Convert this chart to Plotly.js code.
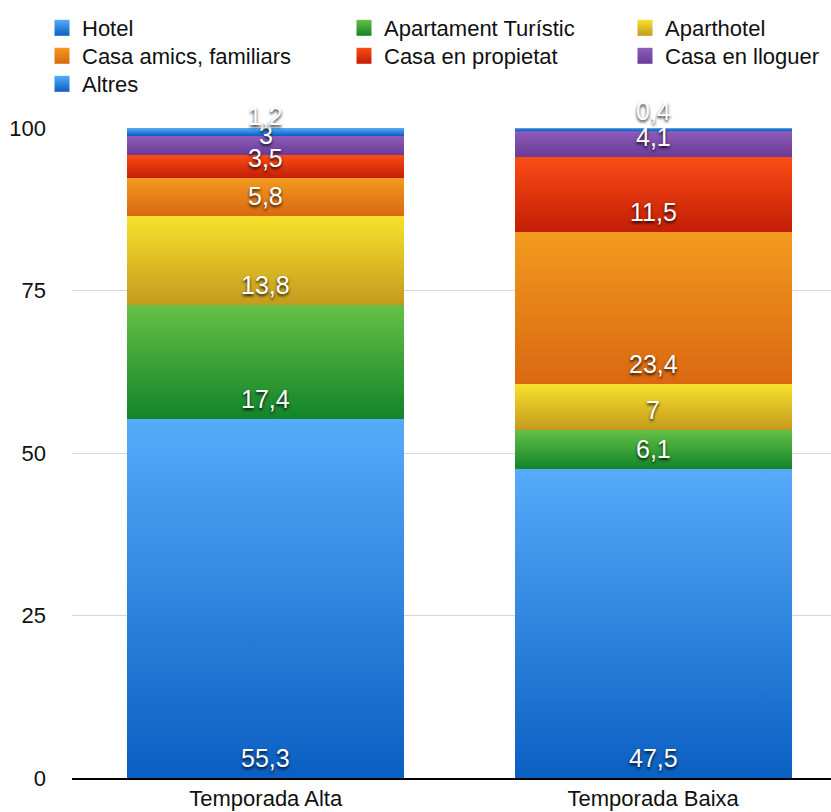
<!DOCTYPE html>
<html>
<head>
<meta charset="utf-8">
<script src="https://cdn.plot.ly/plotly-3.0.1.min.js"></script>
<style>
  html, body { margin: 0; padding: 0; background: #ffffff; }
  #chart { width: 831px; height: 812px; }
</style>
</head>
<body>
<div id="chart"></div>
<script>
// Seasons on the x axis
const seasons = ['Temporada Alta', 'Temporada Baixa'];

// Accommodation types (stack order, bottom to top)
const categories = ['Hotel', 'Apartament Turístic', 'Aparthotel', 'Casa amics, familiars',
                    'Casa en propietat', 'Casa en lloguer', 'Altres'];

// Share of visitors (%) per season
const hotel         = [55.3, 47.5];
const apartament    = [17.4, 6.1];
const aparthotel    = [13.8, 7];
const casaAmics     = [5.8, 23.4];
const casaPropietat = [3.5, 11.5];
const casaLloguer   = [3, 4.1];
const altres        = [1.2, 0.4];

const yTicks = [0, 25, 50, 75, 100];

const seriesValues = [hotel, apartament, aparthotel, casaAmics, casaPropietat, casaLloguer, altres];

// Vertical gradients per series: [top, bottom]
const gradients = [
  ['#56abfa', '#0a5fc2'],
  ['#66c046', '#12842a'],
  ['#f8e22c', '#c49a1e'],
  ['#f29a1f', '#da6811'],
  ['#fb4c15', '#c21e06'],
  ['#8d5db8', '#6a3a97'],
  ['#56abfa', '#0a5fc2']
];
const legendColumn = ['legend', 'legend2', 'legend3', 'legend', 'legend2', 'legend3', 'legend'];

const traces = categories.map((name, i) => ({
  type: 'bar',
  name: name,
  x: seasons,
  y: seriesValues[i],
  legend: legendColumn[i],
  marker: { color: gradients[i][1], line: { width: 0 } },
  hoverinfo: 'skip'
}));

// Value labels sit just above the bottom edge of each segment
const fmt = v => String(v).replace('.', ',');
const annotations = [];
seasons.forEach((s, j) => {
  let base = 0;
  seriesValues.forEach(vals => {
    annotations.push({
      x: s, y: base, xref: 'x', yref: 'y',
      text: fmt(vals[j]), showarrow: false,
      yanchor: 'middle', yshift: 20,
      font: { family: 'Liberation Sans, Arial, sans-serif', size: 25, color: '#ffffff',
              shadow: '0px 2px 3px rgba(0,0,0,0.85)' }
    });
    base += vals[j];
  });
});

const legendFont = { family: 'Liberation Sans, Arial, sans-serif', size: 22, color: '#111111' };
const legendBase = {
  orientation: 'v', xref: 'container', yref: 'container',
  xanchor: 'left', yanchor: 'top', traceorder: 'normal',
  bgcolor: 'rgba(0,0,0,0)', font: legendFont, tracegroupgap: 0
};
const legendTop = 1 - 7 / 812;

const layout = {
  width: 831, height: 812,
  margin: { l: 72, r: 0, t: 128, b: 34, pad: 0, autoexpand: false },
  paper_bgcolor: '#ffffff', plot_bgcolor: '#ffffff',
  barmode: 'stack', bargap: 0.285,
  separators: ', ',
  showlegend: true,
  legend:  Object.assign({}, legendBase, { x: 42 / 831,  y: legendTop }),
  legend2: Object.assign({}, legendBase, { x: 344 / 831, y: legendTop }),
  legend3: Object.assign({}, legendBase, { x: 625 / 831, y: legendTop }),
  xaxis: {
    range: [-0.5, 1.459], showgrid: false, zeroline: false,
    showline: true, linecolor: '#000000', linewidth: 2,
    ticks: '', automargin: false,
    tickfont: { family: 'Liberation Sans, Arial, sans-serif', size: 22, color: '#111111' },
    fixedrange: true
  },
  yaxis: {
    range: [0, 100], tickvals: yTicks, ticktext: yTicks.map(String),
    showgrid: true, gridcolor: '#d6d6d6', gridwidth: 1,
    zeroline: false, showline: false, ticks: '', automargin: false,
    ticklabelstandoff: 25,
    tickfont: { family: 'Liberation Sans, Arial, sans-serif', size: 22, color: '#111111' },
    fixedrange: true
  },
  annotations: annotations
};

Plotly.newPlot('chart', traces, layout, { displayModeBar: false, staticPlot: true }).then(gd => {
  const NS = 'http://www.w3.org/2000/svg';
  const svg = gd.querySelector('svg.main-svg');
  let defs = svg.querySelector('defs');
  if (!defs) { defs = document.createElementNS(NS, 'defs'); svg.insertBefore(defs, svg.firstChild); }
  gradients.forEach((g, i) => {
    const lg = document.createElementNS(NS, 'linearGradient');
    lg.setAttribute('id', 'barGrad' + i);
    lg.setAttribute('x1', '0'); lg.setAttribute('y1', '0');
    lg.setAttribute('x2', '0'); lg.setAttribute('y2', '1');
    [[0, g[0]], [1, g[1]]].forEach(([off, col]) => {
      const st = document.createElementNS(NS, 'stop');
      st.setAttribute('offset', off);
      st.setAttribute('stop-color', col);
      lg.appendChild(st);
    });
    defs.appendChild(lg);
  });
  gd.querySelectorAll('.barlayer .trace.bars').forEach(tr => {
    const idx = tr.__data__[0].trace.index;
    tr.querySelectorAll('path').forEach(p => { p.style.fill = 'url(#barGrad' + idx + ')'; });
  });
  // Legend: larger gradient swatches and tighter row spacing (28px)
  const rowStep = 28;
  gd.querySelectorAll('.traces').forEach(tr => {
    const d = tr.__data__;
    if (!d || !d[0] || !d[0].trace) return;
    const idx = d[0].trace.index;
    tr.querySelectorAll('.legendpoints path').forEach(p => {
      p.setAttribute('d', 'M7.5,8H-7.5V-8H7.5Z');
      p.style.fill = 'url(#barGrad' + idx + ')';
      p.style.strokeWidth = '0';
    });
  });
  gd.querySelectorAll('g.infolayer > g[class^="legend"]').forEach(lg => {
    const items = Array.from(lg.querySelectorAll('.traces'));
    const ys = items.map(it => {
      const m = /translate\(\s*([-\d.]+)[ ,]+([-\d.]+)\s*\)/.exec(it.getAttribute('transform') || '');
      return m ? [parseFloat(m[1]), parseFloat(m[2])] : [0, 0];
    });
    if (!ys.length) return;
    const y0 = ys[0][1];
    items.forEach((it, k) => {
      it.setAttribute('transform', 'translate(' + ys[k][0] + ',' + (y0 + k * rowStep) + ')');
    });
  });
});
</script>
</body>
</html>
